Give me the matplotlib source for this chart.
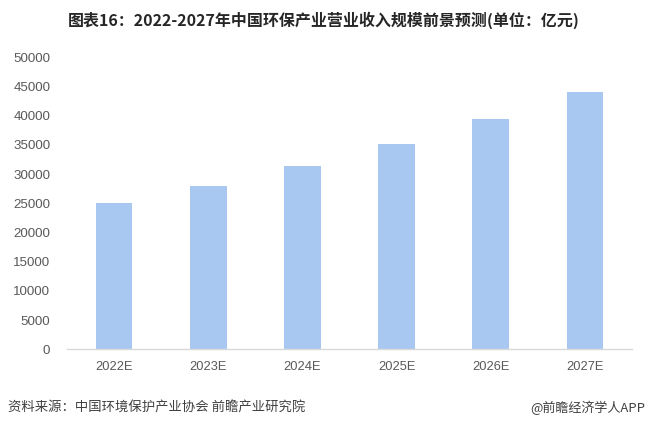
import matplotlib
matplotlib.use('Agg')
import matplotlib.pyplot as plt

plt.rcParams['font.family'] = ['Liberation Sans', 'Noto Sans CJK SC', 'DejaVu Sans']

# data (unit: 亿元)
years = ['2022E', '2023E', '2024E', '2025E', '2026E', '2027E']
revenue = [25000, 27950, 31400, 35150, 39400, 44000]
y_ticks = [0, 5000, 10000, 15000, 20000, 25000, 30000, 35000, 40000, 45000, 50000]

title = '图表16：2022-2027年中国环保产业营业收入规模前景预测(单位：亿元)'
source = '资料来源：中国环境保护产业协会 前瞻产业研究院'
credit = '@前瞻经济学人APP'

bar_color = '#a9c8f1'
text_gray = '#595959'
cjk = ['Noto Sans CJK SC', 'DejaVu Sans']

fig = plt.figure(figsize=(6.47, 4.29), dpi=100)
ax = fig.add_axes([0.1036, 0.1858, 0.8734, 0.6806])

x = range(len(years))
ax.bar(x, revenue, width=0.39, color=bar_color, zorder=2)

ax.set_xlim(-0.5, len(years) - 0.5)
ax.set_ylim(0, 50000)
ax.set_xticks(list(x))
ax.set_xticklabels(years)
ax.set_yticks(y_ticks)
ax.set_yticklabels([str(v) for v in y_ticks])

for s in ['top', 'right', 'left']:
    ax.spines[s].set_visible(False)
ax.spines['bottom'].set_color('#d9d9d9')
ax.spines['bottom'].set_linewidth(1.0)

ax.tick_params(axis='y', length=0, pad=12, labelsize=9.6, labelcolor=text_gray)
ax.tick_params(axis='x', length=0, pad=8.5, labelsize=9.3, labelcolor=text_gray)

fig.text(0.5, 0.953, title, ha='center', va='center', fontsize=11.5,
         fontweight='bold', color='#262626', family=cjk)
fig.text(0.012, 0.049, source, ha='left', va='center', fontsize=9.6,
         color='#404040', family=cjk)
fig.text(0.997, 0.049, credit, ha='right', va='center', fontsize=9.4,
         color='#404040', family=cjk)

fig.savefig('out.png', dpi=100)
